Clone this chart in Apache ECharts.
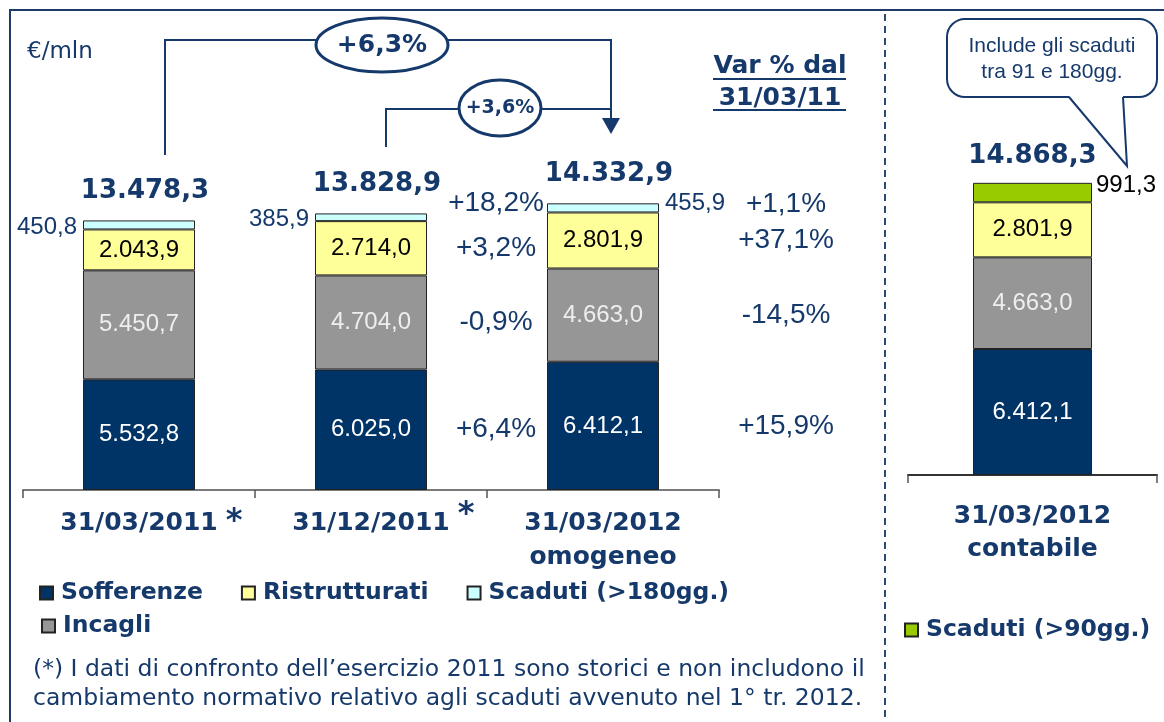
<!DOCTYPE html>
<html>
<head>
<meta charset="utf-8">
<script src="https://cdn.jsdelivr.net/npm/echarts@6/dist/echarts.min.js"></script>
<style>
  html, body { margin: 0; padding: 0; background: #fff; }
  #chart { width: 1164px; height: 722px; }
</style>
</head>
<body>
<div id="chart"></div>
<script>
// dati (€/mln)
const categories = ['31/03/2011', '31/12/2011', '31/03/2012\nomogeneo']
const notes = ['*', '*', '']
const sofferenze = [5532.8, 6025.0, 6412.1]
const incagli = [5450.7, 4704.0, 4663.0]
const ristrutturati = [2043.9, 2714.0, 2801.9]
const scaduti180 = [450.8, 385.9, 455.9]
const totals = [13478.3, 13828.9, 14332.9]

// var % del 31/03/2012 omogeneo (Sofferenze, Incagli, Ristrutturati, Scaduti)
const varVs311211 = ['+6,4%', '-0,9%', '+3,2%', '+18,2%']
const varVs310311 = ['+15,9%', '-14,5%', '+37,1%', '+1,1%']
const growthLabels = ['+6,3%', '+3,6%']

const catContabile = ['31/03/2012\ncontabile']
const sofferenzeC = [6412.1]
const incagliC = [4663.0]
const ristrutturatiC = [2801.9]
const scaduti90 = [991.3]
const totalsC = [14868.3]

const NAVY = '#16396b'
const BORDER = '#222'

// formato italiano 5.532,8
const fmt = (v) => {
  const [i, d] = v.toFixed(1).split('.')
  return i.replace(/\B(?=(\d{3})+(?!\d))/g, '.') + ',' + d
}

const valueLabel = (color) => ({
  show: true,
  position: 'inside',
  color: color,
  fontSize: 24,
  fontFamily: 'Liberation Sans',
  formatter: (p) => fmt(p.value)
})

const barSeries = (name, data, color, textColor, grid, width) => ({
  name: name,
  type: 'bar',
  stack: 'tot' + grid,
  xAxisIndex: grid,
  yAxisIndex: grid,
  barWidth: width,
  data: data,
  itemStyle: { color: color, borderColor: BORDER, borderWidth: 1 },
  label: valueLabel(textColor)
})

const sideLabel = {
  show: true,
  color: NAVY,
  fontSize: 24,
  fontFamily: 'Liberation Sans',
  distance: 6,
  formatter: (p) => fmt(p.value)
}

const legendText = {
  fontFamily: 'DejaVu Sans',
  fontWeight: 'bold',
  fontSize: 23.5,
  color: NAVY,
  padding: [0, 0, 0, 3]
}

const legendBase = {
  icon: 'rect',
  itemWidth: 13,
  itemHeight: 13,
  selectedMode: false,
  textStyle: legendText
}

const axisLabelStyle = {
  fontFamily: 'DejaVu Sans',
  fontWeight: 'bold',
  fontSize: 25,
  color: NAVY
}

const option = {
  animation: false,
  backgroundColor: '#fff',
  grid: [
    { left: 23, right: 445, top: 90, bottom: 232 },
    { left: 908, right: 7, top: 82, bottom: 247 }
  ],
  xAxis: [
    {
      type: 'category',
      gridIndex: 0,
      data: categories,
      axisLine: { lineStyle: { color: '#7a7a7a', width: 2 } },
      axisTick: { show: true, length: 8, lineStyle: { color: '#555', width: 1.5 } },
      axisLabel: { ...axisLabelStyle, margin: 16, lineHeight: 34 }
    },
    {
      type: 'category',
      gridIndex: 1,
      data: catContabile,
      axisLine: { lineStyle: { color: '#333', width: 2 } },
      axisTick: { show: true, length: 8, lineStyle: { color: '#555', width: 1.5 } },
      axisLabel: { ...axisLabelStyle, margin: 25, lineHeight: 33 }
    }
  ],
  yAxis: [
    { type: 'value', gridIndex: 0, min: 0, max: 20000, show: false },
    { type: 'value', gridIndex: 1, min: 0, max: 20000, show: false }
  ],
  legend: [
    { ...legendBase, data: ['Sofferenze', 'Ristrutturati', 'Scaduti (>180gg.)'], left: 34, top: 576, itemGap: 38 },
    { ...legendBase, data: ['Incagli'], left: 36, top: 609 },
    { ...legendBase, data: ['Scaduti (>90gg.)'], left: 899, top: 613 }
  ],
  series: [
    barSeries('Sofferenze', sofferenze, '#003366', '#ffffff', 0, 112),
    barSeries('Incagli', incagli, '#969696', '#eeeeee', 0, 112),
    barSeries('Ristrutturati', ristrutturati, '#ffff99', '#000000', 0, 112),
    {
      ...barSeries('Scaduti (>180gg.)', scaduti180.map((v, i) => ({
        value: v,
        label: { position: i < 2 ? 'left' : 'right', offset: i < 2 ? [0, 2] : [0, -5] }
      })), '#ccffff', NAVY, 0, 112),
      label: sideLabel
    },
    barSeries('Sofferenze', sofferenzeC, '#003366', '#ffffff', 1, 119),
    barSeries('Incagli', incagliC, '#969696', '#eeeeee', 1, 119),
    barSeries('Ristrutturati', ristrutturatiC, '#ffff99', '#000000', 1, 119),
    {
      ...barSeries('Scaduti (>90gg.)', scaduti90, '#99cc00', '#000', 1, 119),
      label: { ...sideLabel, position: 'right', color: '#000', distance: 4, offset: [0, -7] }
    }
  ]
}

const chart = echarts.init(document.getElementById('chart'))
chart.setOption(option)

// annotazioni calcolate dalle scale del grafico
const toPx = (grid, cat, val) => chart.convertToPixel({ xAxisIndex: grid, yAxisIndex: grid }, [cat, val])

const txt = (x, y, text, size, opts) => ({
  type: 'text',
  x: x,
  y: y,
  silent: true,
  style: Object.assign({
    text: text,
    fontSize: size,
    fontFamily: 'Liberation Sans',
    fill: NAVY,
    align: 'center',
    verticalAlign: 'middle'
  }, opts || {})
})

const graphics = []

// cornice
graphics.push({ type: 'line', shape: { x1: 9, y1: 10, x2: 1164, y2: 10 }, style: { stroke: '#1f3a68', lineWidth: 2 } })
graphics.push({ type: 'line', shape: { x1: 10, y1: 10, x2: 10, y2: 722 }, style: { stroke: '#1f3a68', lineWidth: 2 } })
graphics.push({ type: 'line', shape: { x1: 885, y1: 14, x2: 885, y2: 722 }, style: { stroke: '#2a4a7a', lineWidth: 2, lineDash: [7, 5] } })

graphics.push(txt(27, 52, '€/mln', 23, { fontFamily: 'DejaVu Sans', align: 'left' }))

// totali
const stackSeries = [sofferenze, incagli, ristrutturati, scaduti180]
totals.forEach((t, i) => {
  const p = toPx(0, i, t)
  graphics.push(txt(p[0] + 6, p[1] - 29, fmt(t), 26, { fontFamily: 'DejaVu Sans', fontWeight: 'bold' }))
})
totalsC.forEach((t, i) => {
  const p = toPx(1, i, t)
  graphics.push(txt(p[0], p[1] - 27, fmt(t), 26, { fontFamily: 'DejaVu Sans', fontWeight: 'bold' }))
})

// asterischi
const raise = [0, 7]
notes.forEach((n, i) => {
  if (!n) return
  const p = toPx(0, i, 0)
  graphics.push(txt(p[0] + 95, 522 - raise[i], n, 32, { fontFamily: 'DejaVu Sans', fontWeight: 'bold' }))
})

// variazioni percentuali
const segMid = (cat, k) => {
  let base = 0
  for (let j = 0; j < k; j++) base += stackSeries[j][cat]
  return base + stackSeries[k][cat] / 2
}
varVs311211.forEach((t, k) => {
  const p = toPx(0, 1, segMid(1, k))
  graphics.push(txt(p[0] + 125, p[1] + (k === 3 ? -14 : 0), t, 28))
})
varVs310311.forEach((t, k) => {
  const p = toPx(0, 2, segMid(2, k))
  graphics.push(txt(p[0] + 183, p[1] + (k === 3 ? -4 : 0), t, 28))
})

// frecce di crescita
graphics.push({ type: 'polyline', shape: { points: [[165, 155], [165, 40], [611, 40], [611, 122]] }, style: { stroke: NAVY, lineWidth: 2, fill: null } })
graphics.push({ type: 'polygon', shape: { points: [[602, 118], [620, 118], [611, 134]] }, style: { fill: NAVY } })
graphics.push({ type: 'polyline', shape: { points: [[386, 147], [386, 109], [611, 109]] }, style: { stroke: NAVY, lineWidth: 2, fill: null } })
graphics.push({ type: 'ellipse', shape: { cx: 382, cy: 45, rx: 66, ry: 27 }, style: { fill: '#fff', stroke: NAVY, lineWidth: 3 } })
graphics.push(txt(382, 45, growthLabels[0], 25, { fontFamily: 'DejaVu Sans', fontWeight: 'bold' }))
graphics.push({ type: 'ellipse', shape: { cx: 500, cy: 108, rx: 41, ry: 28 }, style: { fill: '#fff', stroke: NAVY, lineWidth: 3 } })
graphics.push(txt(500, 108, growthLabels[1], 19, { fontFamily: 'DejaVu Sans', fontWeight: 'bold' }))

// titolo colonna variazioni
graphics.push(txt(780, 66, 'Var % dal', 25, { fontFamily: 'DejaVu Sans', fontWeight: 'bold' }))
graphics.push(txt(780, 98, '31/03/11', 25, { fontFamily: 'DejaVu Sans', fontWeight: 'bold' }))
graphics.push({ type: 'line', shape: { x1: 713, y1: 79, x2: 846, y2: 79 }, style: { stroke: NAVY, lineWidth: 2 } })
graphics.push({ type: 'line', shape: { x1: 713, y1: 110, x2: 846, y2: 110 }, style: { stroke: NAVY, lineWidth: 2 } })

// fumetto
graphics.push({ type: 'rect', shape: { x: 947, y: 19, width: 210, height: 78, r: 18 }, style: { fill: '#fff', stroke: NAVY, lineWidth: 2 } })
graphics.push({ type: 'polygon', shape: { points: [[1069, 96], [1127, 166], [1123, 96]] }, style: { fill: '#fff' } })
graphics.push({ type: 'line', shape: { x1: 1070, y1: 97, x2: 1122, y2: 97 }, style: { stroke: '#fff', lineWidth: 3 } })
graphics.push({ type: 'polyline', shape: { points: [[1069, 97], [1127, 166], [1123, 97]] }, style: { stroke: NAVY, lineWidth: 2, fill: null } })
graphics.push(txt(1052, 46, 'Include gli scaduti', 21))
graphics.push(txt(1052, 72, 'tra 91 e 180gg.', 21))

// nota
graphics.push(txt(33, 655, '(*) I dati di confronto dell’esercizio 2011 sono storici e non includono il\ncambiamento normativo relativo agli scaduti avvenuto nel 1° tr. 2012.', 23.5, {
  fontFamily: 'DejaVu Sans', align: 'left', verticalAlign: 'top', lineHeight: 29
}))

chart.setOption({ graphic: graphics })
</script>
</body>
</html>
